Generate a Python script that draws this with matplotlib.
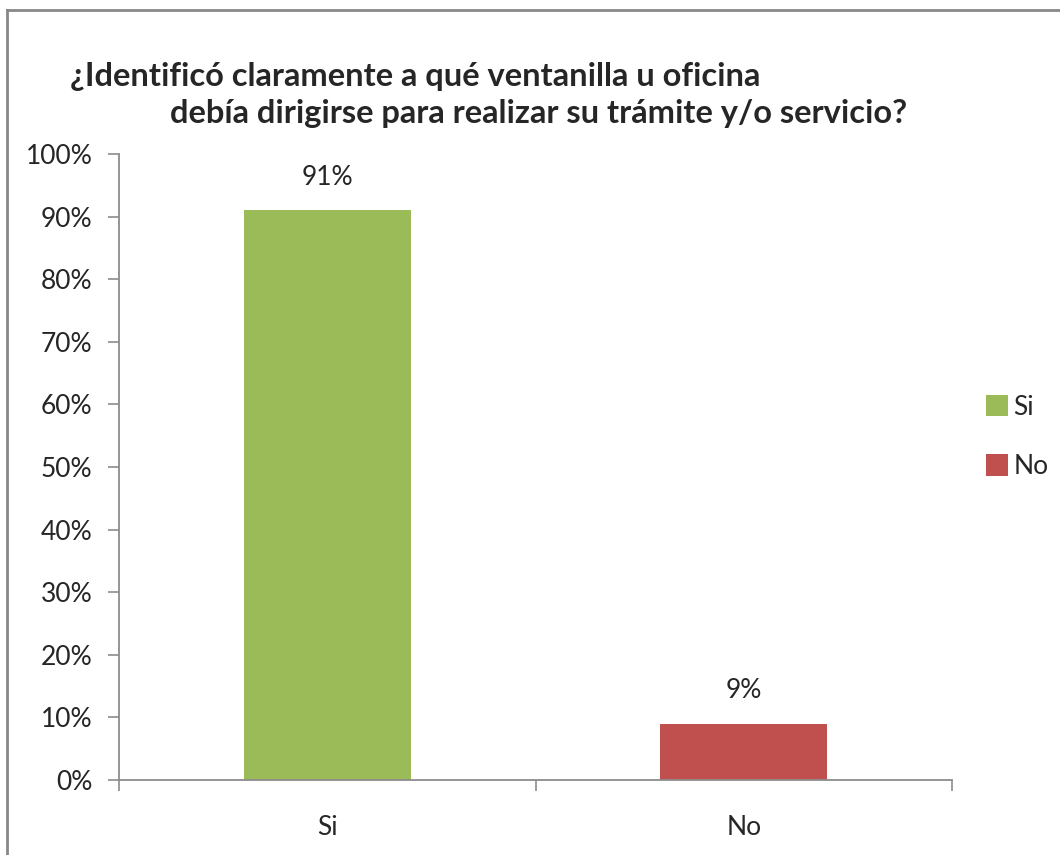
import matplotlib.pyplot as plt
from matplotlib.lines import Line2D
from matplotlib.patches import Patch

# Survey answers
categories = ['Si', 'No']
shares = [91, 9]
colors = ['#9BBB59', '#C0504D']
y_ticks = [0, 10, 20, 30, 40, 50, 60, 70, 80, 90, 100]

plt.rcParams['font.family'] = ['Lato', 'DejaVu Sans']
text_color = '#262626'
axis_color = '#8c8c8c'

fig = plt.figure(figsize=(10.6, 8.55), dpi=100)
ax = fig.add_axes([119 / 1060, 75 / 855, 833 / 1060, 626 / 855])

x = list(range(len(categories)))
ax.bar(x, shares, width=0.4, color=colors)

for xi, v in zip(x, shares):
    ax.annotate(f'{v}%', (xi, v), xytext=(0, 15), textcoords='offset points',
                ha='center', va='bottom', fontsize=19, color=text_color)

ax.set_xlim(-0.5, len(categories) - 0.5)
ax.set_ylim(0, 100)
ax.set_yticks(y_ticks)
ax.set_yticklabels([f'{t}%' for t in y_ticks])
ax.set_xticks(x)
ax.set_xticklabels(categories)
ax.set_xticks([i - 0.5 for i in range(len(categories) + 1)], minor=True)

ax.tick_params(axis='y', length=8, width=1.2, color=axis_color, labelsize=19,
               labelcolor=text_color, pad=11)
ax.tick_params(axis='x', which='major', length=0, labelsize=19,
               labelcolor=text_color, pad=25)
ax.tick_params(axis='x', which='minor', length=8, width=1.2, color=axis_color)

for side in ['top', 'right']:
    ax.spines[side].set_visible(False)
for side in ['left', 'bottom']:
    ax.spines[side].set_color(axis_color)
    ax.spines[side].set_linewidth(1.3)

# Title, two lines with the second one indented
fig.text(70 / 1060, 1 - 86 / 855, '¿Identificó claramente a qué ventanilla u oficina',
         fontsize=23.5, fontweight='bold', color=text_color, ha='left', va='baseline')
fig.text(170 / 1060, 1 - 123 / 855, 'debía dirigirse para realizar su trámite y/o servicio?',
         fontsize=23.5, fontweight='bold', color=text_color, ha='left', va='baseline')

handles = [Patch(facecolor=c, edgecolor='none') for c in colors]
fig.legend(handles, categories, loc='center left', bbox_to_anchor=(962 / 1060, 1 - 437 / 855),
           frameon=False, fontsize=19, handlelength=0.85, handleheight=0.85,
           handletextpad=0.2, labelspacing=1.3, labelcolor=text_color)

# Outer frame, only top and left edges visible
fig.add_artist(Line2D([7 / 1060, 7 / 1060], [0, 1 - 10 / 855], transform=fig.transFigure,
                      color='#888888', linewidth=2))
fig.add_artist(Line2D([7 / 1060, 1], [1 - 10 / 855, 1 - 10 / 855], transform=fig.transFigure,
                      color='#888888', linewidth=2))

fig.savefig('out.png', dpi=100)
